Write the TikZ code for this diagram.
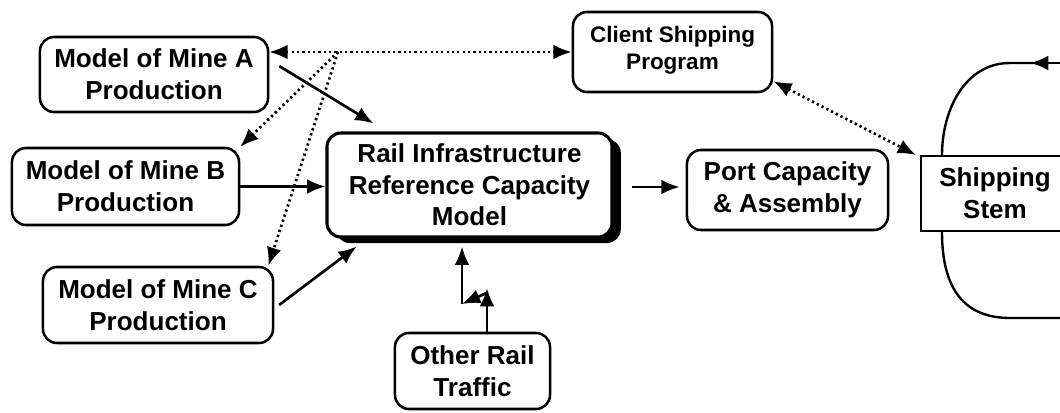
\documentclass[tikz,border=0pt]{standalone}
\usepackage{fontspec}
\setmainfont{Liberation Sans}
\usetikzlibrary{arrows.meta,shadows}

\begin{document}
\begin{tikzpicture}[x=0.025cm, y=-0.025cm, >={Latex[length=13pt,width=10.5pt]}]
\tikzset{boite/.style={draw, line width=1.8pt, rounded corners=0.35cm, align=center, fill=white,
    font=\bfseries\fontsize{18.5}{22.5}\selectfont, inner sep=0pt},
  fleche/.style={line width=1.9pt, ->},
  pointille/.style={line width=1.9pt, dash pattern=on 1.6pt off 2.2pt}}
\clip (0,0) rectangle (1060,413);
\node[boite, minimum width=5.7cm, minimum height=1.875cm] (mineA) at (154,74.5) {Model of Mine A\\Production};
\node[boite, minimum width=5.675cm, minimum height=1.925cm] (mineB) at (125.5,186.5) {Model of Mine B\\Production};
\node[boite, minimum width=5.75cm, minimum height=1.9cm] (mineC) at (158,305) {Model of Mine C\\Production};
\node[boite, line width=2.2pt, minimum width=7.125cm, minimum height=2.6cm,
  drop shadow={shadow xshift=0.22cm, shadow yshift=-0.15cm, fill=black, opacity=1}] (rail) at (469.5,185)
  {Rail Infrastructure\\Reference Capacity\\Model};
\node[boite, minimum width=3.875cm, minimum height=1.9cm] (other) at (472.5,371) {Other Rail\\Traffic};
\node[boite, minimum width=5.025cm, minimum height=2cm] (port) at (787.5,190) {Port Capacity\\\& Assembly};
\node[boite, minimum width=4.975cm, minimum height=2cm, font=\bfseries\fontsize{16}{19}\selectfont,
  text depth=0.2cm] (client) at (672.5,52) {Client Shipping\\Program};
\node[boite, rounded corners=0pt, line width=1.3pt, minimum width=3.7cm, minimum height=1.875cm] (stem) at (995,193.5) {Shipping\\Stem};
\coordinate (j) at (338,52);
\coordinate (kink) at (487,288);
\coordinate (bend) at (462,304);
\coordinate (loopin) at (1075,63);
\coordinate (loopout) at (1075,318);
% liens pointilles
\draw[pointille, <->] (mineA.east |- j) -- (client.west |- j);
\draw[pointille, ->] (j) -- (mineB.north east);
\draw[pointille, ->] (j) -- ([xshift=-0.15cm]mineC.north east);
\draw[pointille, <->] ([yshift=0.3cm]client.south east) -- ([xshift=-0.1cm]stem.north west);
% liens pleins
\draw[fleche] ([xshift=0.25cm, yshift=0.21cm]mineA.east) -- ([xshift=1.2cm, yshift=0.2cm]rail.north west);
\draw[fleche] (mineB.east) -- (mineB.east -| rail.west);
\draw[fleche] ([xshift=0.12cm]mineC.east) -- ([xshift=0.78cm, yshift=-0.2cm]rail.south west);
\draw[fleche, shorten <=0.45cm, shorten >=0.15cm] ([yshift=-0.05cm]rail.east) -- ([yshift=-0.05cm]rail.east -| port.west);
\draw[fleche] (other.north -| kink) -- (kink);
\draw[fleche] ([yshift=-0.12cm]kink) -- (bend);
\draw[fleche, shorten >=0.2cm] (bend) -- (bend |- rail.south);
% boucle
\draw[fleche] (loopin) -- (1030,63);
\draw[line width=1.7pt] (1033,63) -- (1010,63) .. controls (965,63) and (942,110) .. (stem.north -| 942,0);
\draw[line width=1.7pt] (stem.south -| 942,0) .. controls (942,290) and (965,318) .. (1010,318) -- (loopout);
\end{tikzpicture}
\end{document}
